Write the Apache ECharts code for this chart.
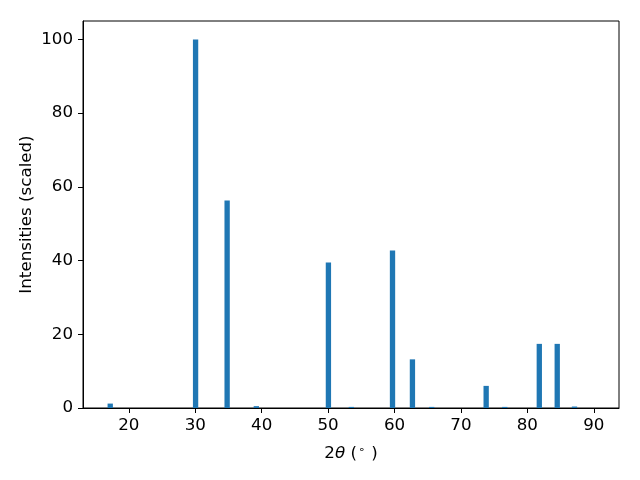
<!DOCTYPE html>
<html>
<head>
<meta charset="utf-8">
<script src="https://cdn.jsdelivr.net/npm/echarts@6/dist/echarts.min.js"></script>
<style>html,body{margin:0;padding:0;background:#fff}#c{width:640px;height:480px}</style>
</head>
<body>
<div id="c"></div>
<script>
const twoTheta = [17.2, 30.05, 34.8, 39.2, 50.05, 53.5, 59.7, 62.7, 65.6, 73.8, 76.6, 81.8, 84.5, 87.1];
const intensity = [1.2, 100, 56.3, 0.5, 39.5, 0.3, 42.7, 13.2, 0.3, 6.0, 0.3, 17.4, 17.4, 0.4];
const xTicks = [20, 30, 40, 50, 60, 70, 80, 90];
const yTicks = [0, 20, 40, 60, 80, 100];

const X_MIN = 13.1, X_MAX = 93.8, Y_MIN = 0, Y_MAX = 105;
const G = {left: 83, right: 21, top: 21, bottom: 72};
const plotW = 640 - G.left - G.right;
const barW = 0.8 * plotW / (X_MAX - X_MIN);
const font = 'DejaVu Sans';
const FS = 16.7;

const chart = echarts.init(document.getElementById('c'), null, {renderer: 'canvas'});
chart.setOption({
  animation: false,
  backgroundColor: '#fff',
  grid: {left: G.left, right: G.right, top: G.top, bottom: G.bottom, show: true, borderColor: '#000', borderWidth: 1},
  xAxis: {
    type: 'value', min: X_MIN, max: X_MAX,
    axisLine: {show: true, onZero: false, lineStyle: {color: '#000', width: 1}},
    axisTick: {show: true, length: 5, inside: false, lineStyle: {color: '#000'}, customValues: xTicks},
    axisLabel: {show: true, customValues: xTicks, color: '#000', fontFamily: font, fontSize: FS, margin: 9},
    splitLine: {show: false},
    name: '{n|2}{i|θ}{n| (}{s|∘}{n| )}',
    nameLocation: 'middle', nameGap: 37,
    nameTextStyle: {
      rich: {
        n: {fontFamily: font, fontSize: FS, color: '#000'},
        i: {fontFamily: font, fontSize: FS, fontStyle: 'italic', color: '#000'},
        s: {fontFamily: font, fontSize: 11, color: '#000', verticalAlign: 'top', padding: [0, 1, 7, 1]}
      }
    }
  },
  yAxis: {
    type: 'value', min: Y_MIN, max: Y_MAX,
    axisLine: {show: true, lineStyle: {color: '#000', width: 1}},
    axisTick: {show: true, length: 5, lineStyle: {color: '#000'}, customValues: yTicks},
    axisLabel: {show: true, customValues: yTicks, color: '#000', fontFamily: font, fontSize: FS, margin: 10},
    splitLine: {show: false},
    name: 'Intensities (scaled)', nameLocation: 'middle', nameGap: 48,
    nameMoveOverlap: false,
    nameTextStyle: {fontFamily: font, fontSize: FS, color: '#000'}
  },
  series: [{
    type: 'bar',
    data: twoTheta.map((t, i) => [t, intensity[i]]),
    barWidth: barW,
    itemStyle: {color: '#1f77b4'},
    silent: true
  }]
});
</script>
</body>
</html>
